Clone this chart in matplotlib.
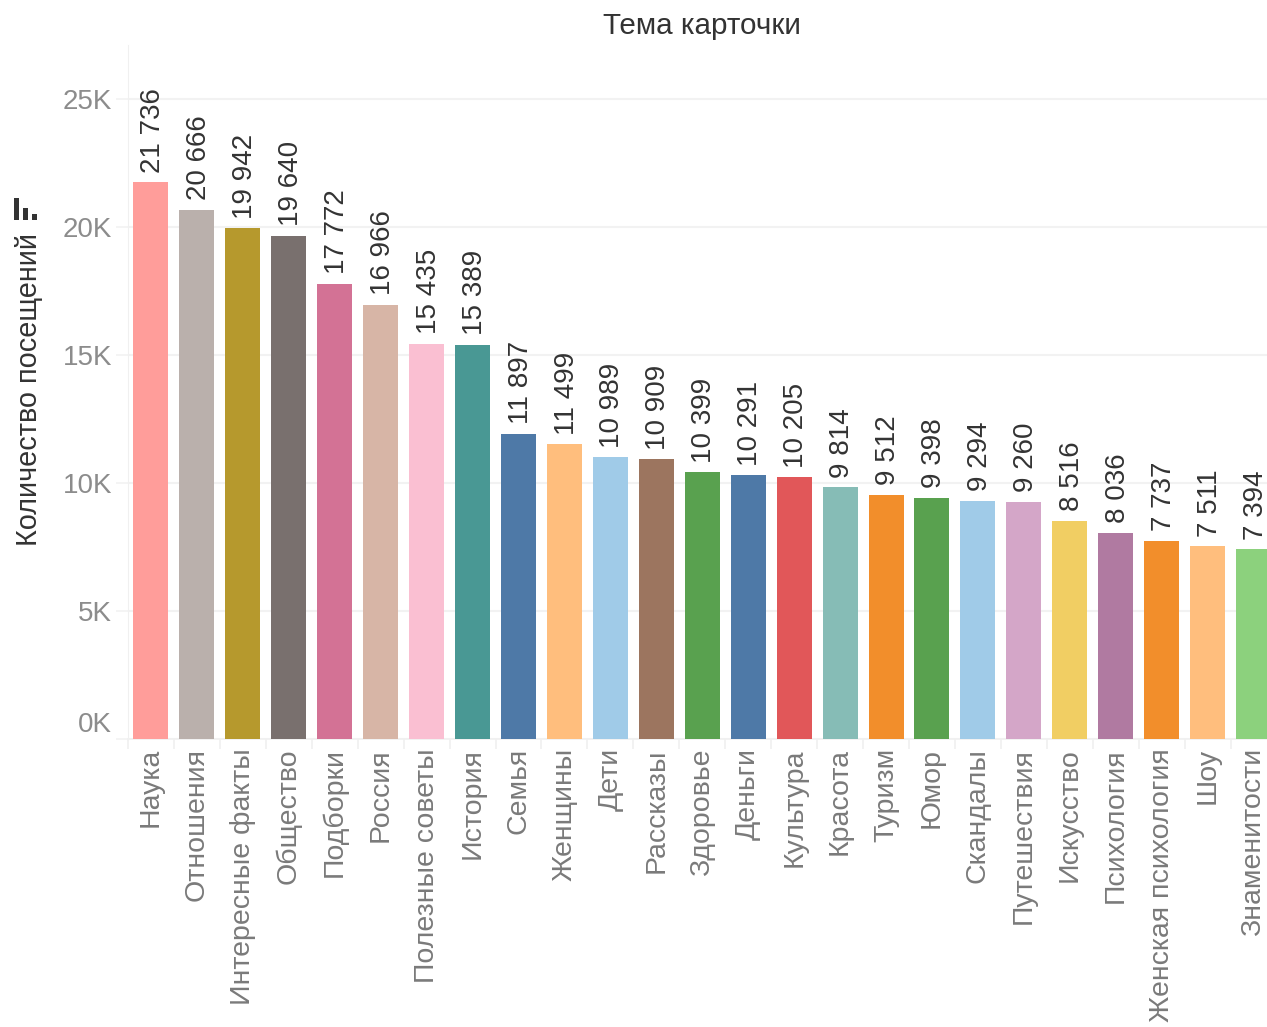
import matplotlib
matplotlib.use("Agg")
import matplotlib.pyplot as plt
from matplotlib.patches import Rectangle

plt.rcParams['font.family'] = ['Liberation Sans', 'DejaVu Sans']

categories = ["Наука","Отношения","Интересные факты","Общество","Подборки","Россия","Полезные советы","История","Семья","Женщины","Дети","Рассказы","Здоровье","Деньги","Культура","Красота","Туризм","Юмор","Скандалы","Путешествия","Искусство","Психология","Женская психология","Шоу","Знаменитости"]
values = [21736,20666,19942,19640,17772,16966,15435,15389,11897,11499,10989,10909,10399,10291,10205,9814,9512,9398,9294,9260,8516,8036,7737,7511,7394]
bar_colors = ["#FF9D9A","#BAB0AC","#B6992D","#79706E","#D37295","#D7B5A6","#FABFD2","#499894","#4E79A7","#FFBE7D","#A0CBE8","#9C755F","#59A14F","#4E79A7","#E15759","#86BCB6","#F28E2B","#59A14F","#A0CBE8","#D4A6C8","#F1CE63","#B07AA1","#F28E2B","#FFBE7D","#8CD17D"]
y_ticks = [0,5000,10000,15000,20000,25000]
y_labels = ["0K","5K","10K","15K","20K","25K"]

W,H = 1267,1027
fig = plt.figure(figsize=(W/100,H/100),dpi=100)
L,T,B = 128,45,738.5
step = 45.94
n=len(values)
R = L+step*n
ax = fig.add_axes([L/W,1-B/H,(R-L)/W,(B-T)/H])
ax.set_xlim(-0.5,n-0.5)
ax.set_ylim(0,(B-T)/0.02558)
xs=list(range(n))
ax.bar(xs,values,width=35/step,color=bar_colors,zorder=3)
for s in ['top','right']:
    ax.spines[s].set_visible(False)
ax.spines['left'].set_color('#f0f0f0')
ax.spines['bottom'].set_color('#f0f0f0')
ax.spines['bottom'].set_linewidth(1.2)
ax.set_yticks(y_ticks)
ax.set_yticklabels(y_labels,fontsize=20,color='#8c8c8c')
ax.yaxis.grid(True,color='#f2f2f2',lw=1.5,zorder=0)
ax.tick_params(axis='y',length=9,width=1.2,color='#f2f2f2',pad=2.5)
ax.get_yticklabels()[0].set_verticalalignment('bottom')
ax.get_yticklabels()[0].set_y(0)
ax.set_xticks(xs)
ax.set_xticklabels(categories,rotation=90,fontsize=20.5,color='#7a7a7a')
ax.set_xticks([i-0.5 for i in range(n+1)],minor=True)
ax.tick_params(axis='x',which='major',length=0,pad=7)
ax.tick_params(axis='x',which='minor',length=7,width=1.2,color='#f0f0f0')
for lab in ax.get_xticklabels():
    lab.set_x(lab.get_position()[0])
for x,v in zip(xs,values):
    t=f"{v:,}".replace(","," ")
    ax.annotate(t,(x,v),xytext=(1.5,7),textcoords='offset points',rotation=90,ha='center',va='bottom',fontsize=20,color='#333333')
fig.text(29/W,1-389/H,"Количество посещений",rotation=90,ha='center',va='center',fontsize=20.8,color='#333333')
fig.text(702/W,1-26/H,"Тема карточки",ha='center',va='center',fontsize=21.3,color='#333333')
for x0,y0 in [(14,198),(23,208),(32,214)]:
    fig.add_artist(Rectangle((x0/W,1-220/H),5/W,(220-y0)/H,transform=fig.transFigure,color='#333333',lw=0))
fig.savefig('out.png',dpi=100)
